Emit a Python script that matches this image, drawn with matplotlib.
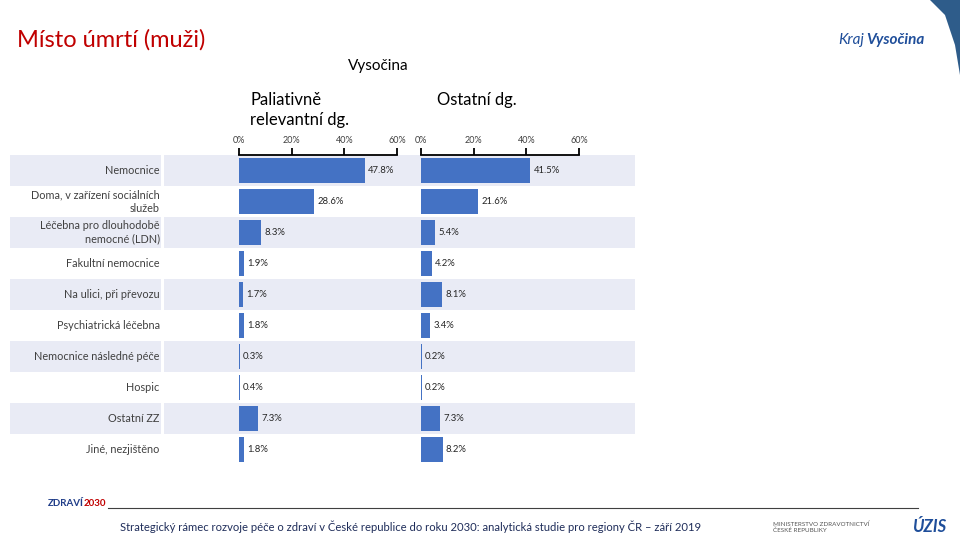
import matplotlib
matplotlib.use('Agg')
import matplotlib.pyplot as plt
from matplotlib.patches import Polygon

plt.rcParams['font.family'] = ['Lato', 'DejaVu Sans']

# data
categories = ['Nemocnice', 'Doma, v zařízení sociálních\nslužeb',
              'Léčebna pro dlouhodobě\nnemocné (LDN)', 'Fakultní nemocnice',
              'Na ulici, při převozu', 'Psychiatrická léčebna',
              'Nemocnice následné péče', 'Hospic', 'Ostatní ZZ', 'Jiné, nezjištěno']
paliativni = [47.8, 28.6, 8.3, 1.9, 1.7, 1.8, 0.3, 0.4, 7.3, 1.8]
ostatni = [41.5, 21.6, 5.4, 4.2, 8.1, 3.4, 0.2, 0.2, 7.3, 8.2]
ticks = [0, 20, 40, 60]
tick_labels = ['0%', '20%', '40%', '60%']

bar_color = '#4472C4'
band_color = '#E9EBF5'
text_color = '#404040'

fig = plt.figure(figsize=(9.6, 5.4), dpi=100)

W, H = 960.0, 540.0
top_px, bot_px = 155, 465
ax_b = 1 - bot_px / H
ax_h = (bot_px - top_px) / H
n = len(categories)

# background bands
bg = fig.add_axes([10 / W, ax_b, 625 / W, ax_h])
bg.set_ylim(n - 0.5, -0.5)
bg.set_xlim(0, 1)
for i in range(0, n, 2):
    bg.axhspan(i - 0.5, i + 0.5, color=band_color, lw=0)
bg.axvspan(151 / 625, 154 / 625, color='white', lw=0)
bg.axis('off')

for i, cat in enumerate(categories):
    bg.text(151 / 625 - 0.002, i, cat, ha='right', va='center', fontsize=7.8,
            color=text_color, linespacing=1.25)

panels = [(239, paliativni), (421, ostatni)]
for x0, vals in panels:
    ax = fig.add_axes([x0 / W, ax_b, 158 / W, ax_h])
    ax.patch.set_alpha(0)
    ax.barh(range(n), vals, height=0.78, color=bar_color)
    ax.set_xlim(0, 60)
    ax.set_ylim(n - 0.5, -0.5)
    for s in ['bottom', 'left', 'right']:
        ax.spines[s].set_visible(False)
    ax.spines['top'].set_linewidth(1.3)
    ax.xaxis.tick_top()
    ax.set_xticks(ticks)
    ax.set_xticklabels(tick_labels, fontsize=6.5, color=text_color)
    ax.tick_params(axis='x', direction='out', length=5, width=1.3, pad=2)
    ax.set_yticks([])
    for i, v in enumerate(vals):
        ax.text(v + 1.2, i, f'{v:.1f}%', va='center', ha='left', fontsize=6.8,
                color='#262626', clip_on=False)

# titles
fig.text(17 / W, 1 - 40 / H, 'Místo úmrtí (muži)', fontsize=17, color='#C00000',
         va='center', ha='left')
fig.text(378 / W, 1 - 66 / H, 'Vysočina', fontsize=11, color='black',
         va='center', ha='center')
fig.text(250 / W, 1 - 110 / H, 'Paliativně\nrelevantní dg.', fontsize=12,
         color='black', va='center', ha='left', linespacing=1.25)
fig.text(437 / W, 1 - 100 / H, 'Ostatní dg.', fontsize=12, color='black',
         va='center', ha='left')

# logo texts
fig.text(838 / W, 1 - 40 / H, 'Kraj', fontsize=11, color='#1F4E9A',
         style='italic', va='center', ha='left')
fig.text(866 / W, 1 - 40 / H, 'Vysočina', fontsize=11, color='#1F4E9A',
         style='italic', weight='bold', va='center', ha='left')
fig.patches.append(Polygon([[930 / W, 1], [1, 1], [1, 1 - 75 / H], [955 / W, 1 - 45 / H],
                            [945 / W, 1 - 15 / H]], closed=True,
                           transform=fig.transFigure, color='#2E5C8A', lw=0))

# footer
fig.add_artist(plt.Line2D([108 / W, 918 / W], [1 - 508 / H, 1 - 508 / H],
                          color='#404040', lw=0.8, transform=fig.transFigure))
fig.text(120 / W, 1 - 527 / H,
         'Strategický rámec rozvoje péče o zdraví v České republice do roku 2030: '
         'analytická studie pro regiony ČR – září 2019',
         fontsize=8.1, color='#1F2D5A', va='center', ha='left')
fig.text(48 / W, 1 - 503 / H, 'ZDRAVÍ', fontsize=7, color='#1F3C88', weight='bold',
         va='center', ha='left')
fig.text(84 / W, 1 - 503 / H, '2030', fontsize=7, color='#C00000', weight='bold',
         va='center', ha='left')
fig.text(773 / W, 1 - 527 / H, 'MINISTERSTVO ZDRAVOTNICTVÍ\nČESKÉ REPUBLIKY', fontsize=4.5,
         color='#555555', va='center', ha='left')
fig.text(912 / W, 1 - 527 / H, 'ÚZIS', fontsize=12, color='#1F4E9A', style='italic',
         weight='bold', va='center', ha='left')

fig.savefig('out.png', dpi=100)
